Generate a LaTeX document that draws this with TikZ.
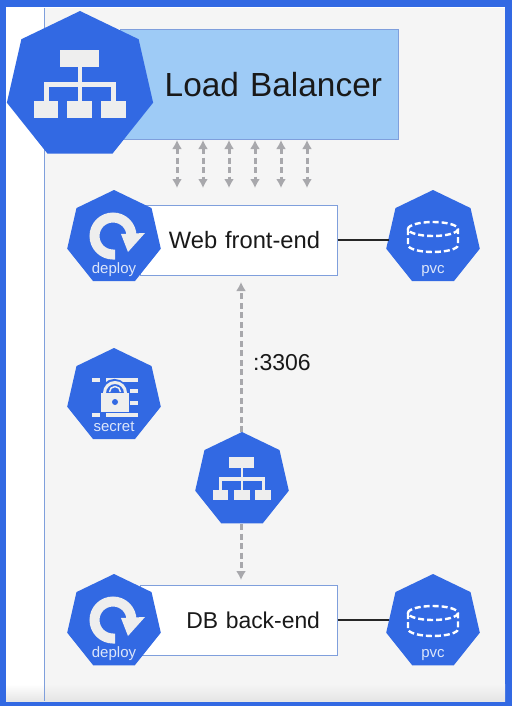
\documentclass[tikz,border=0pt]{standalone}
\usepackage{fontspec}
\setmainfont[WordSpace=0.75]{Liberation Sans}
\usepackage{xcolor}
\usetikzlibrary{arrows.meta,positioning,shapes.geometric}
\definecolor{kblue}{HTML}{3269E3}
\definecolor{kicon}{HTML}{EEEEEE}
\definecolor{ktext}{HTML}{DCE6FA}
\definecolor{kpanel}{HTML}{F5F5F5}
\definecolor{kedge}{HTML}{7F9FDC}
\definecolor{klb}{HTML}{9ECBF6}
\definecolor{kgray}{HTML}{A8A8AC}

\begin{document}
\begin{tikzpicture}[
  x=1pt, y=-1pt,
  hepbig/.style={regular polygon, regular polygon sides=7, fill=kblue, inner sep=0pt, outer sep=0pt, minimum size=150pt},
  hepsmall/.style={hepbig, minimum size=96pt},
  box/.style={draw=kedge, line width=1pt, fill=white, align=right, inner ysep=0pt, inner xsep=17pt, text width=163pt, minimum height=70pt, font=\fontsize{22.9}{27}\selectfont, text=black!90},
  lbbox/.style={box, fill=klb, inner xsep=16pt, text width=246pt, minimum height=109pt, font=\fontsize{33.4}{38}\selectfont},
  iconlabel/.style={text=ktext, inner sep=0pt, font=\fontsize{15}{17}\selectfont},
  dasharr/.style={draw=kgray, line width=3pt, dash pattern=on 6pt off 3.5pt, -{Latex[length=9pt,width=10pt]}},
  dashboth/.style={dasharr, {Latex[length=9pt,width=10pt]}-{Latex[length=9pt,width=10pt]}},
  solidline/.style={draw=black!85, line width=2.5pt},
  pics/treeicon/.style={code={
    \fill[kicon] (-20,-36) rectangle (19,-19);
    \fill[kicon] (-46,15) rectangle (-22,32);
    \fill[kicon] (-13,15) rectangle (12,32);
    \fill[kicon] (21,15) rectangle (46,32);
    \fill[kicon] (-2,-19) rectangle (2,15);
    \fill[kicon] (-36,-4) rectangle (36,1);
    \fill[kicon] (-36,-4) rectangle (-31,15);
    \fill[kicon] (31,-4) rectangle (36,15);
  }},
  pics/deployicon/.style={code={
    \draw[kicon, line width=10pt] (1,16.5) -- (-1,16.5) arc[start angle=90, end angle=360, radius=18.5];
    \fill[kicon] (31,-5) -- (7,-4) -- (14,14) -- cycle;
  }},
  pics/pvcicon/.style={code={
    \draw[white, line width=2.4pt, dash pattern=on 6pt off 3pt] (0,-9) ellipse[x radius=25, y radius=7];
    \draw[white, line width=2.4pt, dash pattern=on 6pt off 3pt] (-25,-9) -- (-25,7) arc[start angle=180, end angle=0, x radius=25, y radius=7] -- (25,-9);
  }},
  pics/secreticon/.style={code={
    \foreach \ya in {-18,17} {
      \fill[kicon] (-22,\ya) rectangle (-14,\ya+4);
      \fill[kicon] (-8,\ya) rectangle (24,\ya+4);
    }
    \fill[kicon] (16,-7) rectangle (24,-3);
    \fill[kicon] (16,5) rectangle (24,9);
    \draw[kblue, line width=6pt] (-10.5,-3) arc[start angle=180, end angle=360, radius=11];
    \draw[kicon, line width=3pt] (-9.5,-3) arc[start angle=180, end angle=360, radius=10.5];
    \draw[kicon, line width=1.5pt] (-4.5,-4) arc[start angle=180, end angle=360, radius=5.5];
    \fill[kicon] (-13,-3) rectangle (15,16);
    \fill[kblue] (1,6) circle[radius=3];
  }}
]
  \fill[kblue] (0,0) rectangle (512,706);
  \fill[white] (6,7) rectangle (505,701);
  \fill[kpanel] (44,8) rectangle (505,701);
  \shade[top color=kpanel, bottom color=black!10] (44,684) rectangle (505,701);
  \shade[top color=white, bottom color=black!10] (6,684) rectangle (44,701);
  \draw[kedge] (44,8) -- (44,701);

  \node[lbbox] (lb) at (259,84.5) {Load Balancer};
  \node[box, font=\fontsize{23.7}{27}\selectfont] (web) at (238.5,240) {Web front-end};
  \node[box, below=380pt of web.center, anchor=center] (db) {DB back-end};

  \node[hepbig] (lbicon) at (80,86) {};
  \node[hepsmall] (deployweb) at (114,238) {};
  \node[hepsmall, right=319pt of deployweb.center, anchor=center] (pvcweb) {};
  \node[hepsmall, below=158pt of deployweb.center, anchor=center] (secret) {};
  \node[hepsmall, below=384pt of deployweb.center, anchor=center] (deploydb) {};
  \node[hepsmall, right=319pt of deploydb.center, anchor=center] (pvcdb) {};
  \node[hepsmall] (svc) at (242,480) {};

  \pic at (lbicon.center) {treeicon};
  \pic[scale=0.64] at (svc.center) {treeicon};
  \pic at (deployweb.center) {deployicon};
  \pic at (deploydb.center) {deployicon};
  \pic at (pvcweb.center) {pvcicon};
  \pic at (pvcdb.center) {pvcicon};
  \pic at (secret.center) {secreticon};

  \node[iconlabel, below=32pt of deployweb.center, anchor=center] (deploywebtxt) {deploy};
  \node[iconlabel, below=32pt of deploydb.center, anchor=center] (deploydbtxt) {deploy};
  \node[iconlabel, below=33pt of pvcweb.center, anchor=center] (pvcwebtxt) {pvc};
  \node[iconlabel, below=33pt of pvcdb.center, anchor=center] (pvcdbtxt) {pvc};
  \node[iconlabel, below=31pt of secret.center, anchor=center] (secrettxt) {secret};

  \foreach \i/\xa in {1/177,2/203,3/229,4/255,5/281,6/307} {
    \coordinate (lbtop\i) at (\xa,140);
    \coordinate (lbbot\i) at (\xa,188);
    \draw[dashboth] (lbtop\i) -- (lbbot\i);
  }

  \coordinate (svcup) at (241,282);
  \coordinate (svcdown) at (241,580);
  \draw[dasharr] (241,432) coordinate (svctop) -- (svcup);
  \draw[dasharr] (241,524) coordinate (svcbot) -- (svcdown);
  \node[right=12pt of svcup, yshift=-81pt, inner sep=0pt, font=\fontsize{23}{27}\selectfont, text=black!90] (port) {:3306};

  \draw[solidline] (web.east) -- (web.east -| pvcweb.west);
  \draw[solidline] (db.east) -- (db.east -| pvcdb.west);
\end{tikzpicture}
\end{document}
